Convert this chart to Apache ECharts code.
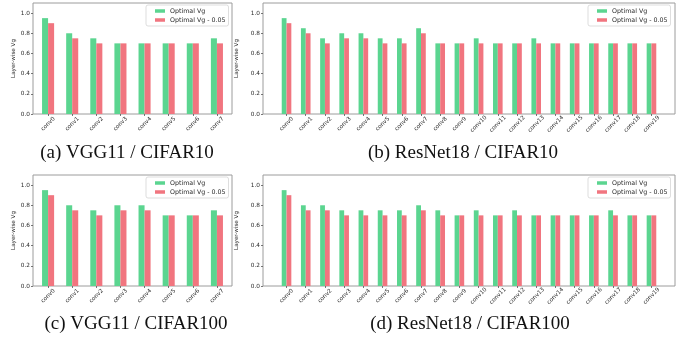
<!DOCTYPE html>
<html>
<head>
<meta charset="utf-8">
<script src="https://cdn.jsdelivr.net/npm/echarts@6/dist/echarts.min.js"></script>
<style>
  html, body { margin: 0; padding: 0; background: #fff; }
  #chart { width: 692px; height: 341px; }
</style>
</head>
<body>
<div id="chart"></div>
<script>
// layer names
const vggLayers = ['conv0', 'conv1', 'conv2', 'conv3', 'conv4', 'conv5', 'conv6', 'conv7'];
const resLayers = ['conv0', 'conv1', 'conv2', 'conv3', 'conv4', 'conv5', 'conv6', 'conv7', 'conv8', 'conv9',
  'conv10', 'conv11', 'conv12', 'conv13', 'conv14', 'conv15', 'conv16', 'conv17', 'conv18', 'conv19'];

const seriesNames = ['Optimal Vg', 'Optimal Vg - 0.05'];

// (a) VGG11 / CIFAR10
const vggC10Opt = [0.95, 0.80, 0.75, 0.70, 0.70, 0.70, 0.70, 0.75];
const vggC10Low = [0.90, 0.75, 0.70, 0.70, 0.70, 0.70, 0.70, 0.70];
// (b) ResNet18 / CIFAR10
const resC10Opt = [0.95, 0.85, 0.75, 0.80, 0.80, 0.75, 0.75, 0.85, 0.70, 0.70,
  0.75, 0.70, 0.70, 0.75, 0.70, 0.70, 0.70, 0.70, 0.70, 0.70];
const resC10Low = [0.90, 0.80, 0.70, 0.75, 0.75, 0.70, 0.70, 0.80, 0.70, 0.70,
  0.70, 0.70, 0.70, 0.70, 0.70, 0.70, 0.70, 0.70, 0.70, 0.70];
// (c) VGG11 / CIFAR100
const vggC100Opt = [0.95, 0.80, 0.75, 0.80, 0.80, 0.70, 0.70, 0.75];
const vggC100Low = [0.90, 0.75, 0.70, 0.75, 0.75, 0.70, 0.70, 0.70];
// (d) ResNet18 / CIFAR100
const resC100Opt = [0.95, 0.80, 0.80, 0.75, 0.75, 0.75, 0.75, 0.80, 0.75, 0.70,
  0.75, 0.70, 0.75, 0.70, 0.70, 0.70, 0.70, 0.75, 0.70, 0.70];
const resC100Low = [0.90, 0.75, 0.75, 0.70, 0.70, 0.70, 0.70, 0.75, 0.70, 0.70,
  0.70, 0.70, 0.70, 0.70, 0.70, 0.70, 0.70, 0.70, 0.70, 0.70];

const yTicks = [0, 0.2, 0.4, 0.6, 0.8, 1.0];
const titles = ['(a) VGG11 / CIFAR10', '(b) ResNet18 / CIFAR10', '(c) VGG11 / CIFAR100', '(d) ResNet18 / CIFAR100'];

const GREEN = '#5bd590';
const RED = '#f1757f';
const sans = 'DejaVu Sans';

const panels = [
  { layers: vggLayers, opt: vggC10Opt, low: vggC10Low, grid: { left: 33, top: 3, width: 199, height: 111 }, legend: { left: 146, top: 5 }, title: [127, 153] },
  { layers: resLayers, opt: resC10Opt, low: resC10Low, grid: { left: 263, top: 3, width: 412, height: 111 }, legend: { left: 588, top: 5 }, title: [463, 153] },
  { layers: vggLayers, opt: vggC100Opt, low: vggC100Low, grid: { left: 33, top: 175, width: 199, height: 111 }, legend: { left: 146, top: 177 }, title: [136, 324] },
  { layers: resLayers, opt: resC100Opt, low: resC100Low, grid: { left: 263, top: 175, width: 412, height: 111 }, legend: { left: 588, top: 177 }, title: [470, 324] },
];

const grids = [], xAxes = [], yAxes = [], series = [], legends = [], graphics = [];

panels.forEach((p, k) => {
  const idx = p.layers.map((_, i) => i);
  // matplotlib-like margins: bars span -0.25..n-0.75, plus 5% padding
  const span = p.layers.length - 0.5;
  const pad = span * 0.05 + 0.25;

  grids.push(Object.assign({
    show: true, borderColor: '#9c9c9c', borderWidth: 1, backgroundColor: '#fff'
  }, p.grid));

  xAxes.push({
    type: 'value', gridIndex: k,
    min: -pad, max: p.layers.length - 1 + pad,
    axisLine: { show: false, onZero: false },
    splitLine: { show: false },
    axisTick: { show: true, customValues: idx, length: 2, lineStyle: { color: '#555', width: 0.8 } },
    axisLabel: {
      customValues: idx,
      formatter: v => p.layers[Math.round(v)],
      rotate: 45, align: 'center', verticalAlign: 'middle', margin: 10,
      fontSize: 5.7, color: '#2a2a2a', fontFamily: sans
    }
  });

  yAxes.push({
    type: 'value', gridIndex: k, min: 0, max: 1.1,
    name: 'Layer-wise Vg', nameLocation: 'middle', nameGap: 15,
    nameTextStyle: { fontSize: 5.6, color: '#2a2a2a', fontFamily: sans },
    axisLine: { show: false, onZero: false },
    splitLine: { show: false },
    axisTick: { show: true, customValues: yTicks, length: 2, lineStyle: { color: '#555', width: 0.8 } },
    axisLabel: {
      customValues: yTicks, formatter: v => v.toFixed(1), margin: 3,
      fontSize: 5.8, color: '#2a2a2a', fontFamily: sans
    }
  });

  [p.opt, p.low].forEach((vals, s) => {
    series.push({
      name: seriesNames[s], type: 'bar', xAxisIndex: k, yAxisIndex: k,
      barWidth: '25%', barGap: '0%',
      itemStyle: { color: s === 0 ? GREEN : RED },
      data: vals.map((v, i) => [i, v])
    });
  });

  legends.push({
    data: seriesNames, orient: 'vertical', left: p.legend.left, top: p.legend.top,
    icon: 'rect', itemWidth: 10, itemHeight: 3.5, itemGap: 3,
    padding: [3, 3, 3, 9],
    borderColor: '#d4d4d4', borderWidth: 0.8, borderRadius: 2, backgroundColor: '#fff',
    selectedMode: false,
    textStyle: { fontSize: 6.3, color: '#2a2a2a', fontFamily: sans }
  });

  graphics.push({
    type: 'text', x: p.title[0], y: p.title[1],
    style: {
      text: titles[k], align: 'center', verticalAlign: 'middle',
      fontSize: 19, fontFamily: 'Liberation Serif', fill: '#111'
    }
  });
});

const chart = echarts.init(document.getElementById('chart'), null, { renderer: 'canvas' });
chart.setOption({
  animation: false,
  backgroundColor: '#fff',
  grid: grids,
  xAxis: xAxes,
  yAxis: yAxes,
  legend: legends,
  series: series,
  graphic: graphics
});
</script>
</body>
</html>
